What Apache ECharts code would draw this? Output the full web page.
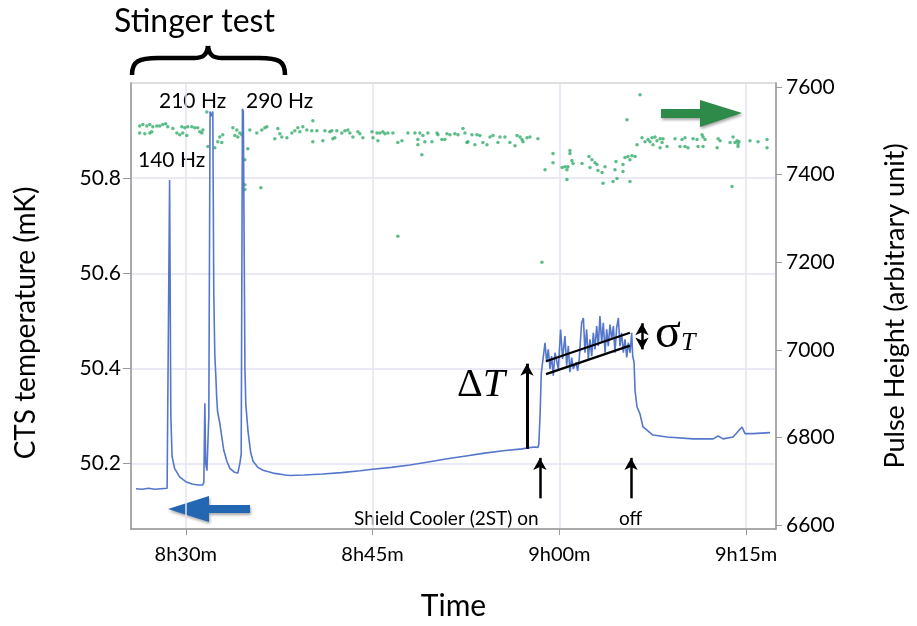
<!DOCTYPE html>
<html>
<head>
<meta charset="utf-8">
<script src="https://cdn.jsdelivr.net/npm/echarts@6/dist/echarts.min.js"></script>
<style>
  html, body { margin: 0; padding: 0; background: #fff; }
  #chart { width: 917px; height: 626px; }
</style>
</head>
<body>
<div id="chart"></div>
<script>
// time in minutes after 8h00m
var timeTicks = [30, 45, 60, 75]
var tempTicks = [50.2, 50.4, 50.6, 50.8]
var pulseTicks = [6600, 6800, 7000, 7200, 7400, 7600]

// CTS temperature (mK)
var tempTime = [
  26.0, 26.5, 27.0, 27.5, 28.0, 28.5, 28.62, 28.70, 28.80, 28.90, 29.1, 29.5, 30.0, 30.5, 31.0, 31.35,
  31.45, 31.53, 31.60, 31.70, 31.85, 31.95, 32.05, 32.17, 32.25, 32.33, 32.42, 32.48, 32.55, 32.73,
  33.05, 33.3, 33.54, 33.9, 34.18, 34.34, 34.45, 34.55, 34.62, 34.75, 34.82, 35.0, 35.2, 35.4, 35.8,
  36.2, 37.0, 38.0, 38.4, 39.5, 41.0, 42.5, 44.0, 45.0, 46.5, 48.0, 49.6, 51.0, 52.5, 54.0, 55.5,
  57.0, 57.5, 58.0, 58.28, 58.35, 58.45, 58.55,
  58.71, 58.85, 58.98, 59.11, 59.25, 59.38, 59.51, 59.65, 59.92, 60.10, 60.26, 60.45, 60.59, 60.72,
  60.85, 60.99, 61.12, 61.34, 61.47, 61.60, 61.79, 61.93, 62.06, 62.19, 62.33, 62.46, 62.60, 62.73,
  62.86, 63.00, 63.13, 63.26, 63.40, 63.53, 63.67, 63.80, 63.93, 64.07, 64.20, 64.34, 64.47, 64.60,
  64.74, 64.87, 65.00, 65.14, 65.27, 65.41, 65.54, 65.68, 65.81, 65.89, 66.00,
  66.08, 66.24, 66.48, 66.72, 67.52, 68.65, 70.74, 72.35, 72.75, 73.15, 73.95, 74.67, 74.91, 75.56, 76.92
]
var tempValue = [
  50.147, 50.146, 50.148, 50.146, 50.147, 50.148, 50.150, 50.796, 50.300, 50.215, 50.190, 50.172, 50.162, 50.157, 50.155, 50.155,
  50.160, 50.327, 50.200, 50.185, 50.300, 50.940, 50.930, 50.940, 50.554, 50.430, 50.380, 50.340, 50.310, 50.285,
  50.228, 50.205, 50.190, 50.182, 50.180, 50.200, 50.220, 50.946, 50.940, 50.400, 50.325, 50.267, 50.225, 50.205, 50.192,
  50.186, 50.180, 50.176, 50.175, 50.176, 50.178, 50.181, 50.185, 50.188, 50.192, 50.197, 50.204, 50.210, 50.216, 50.222, 50.227,
  50.231, 50.233, 50.235, 50.234, 50.240, 50.300, 50.390,
  50.388, 50.454, 50.413, 50.440, 50.399, 50.426, 50.385, 50.433, 50.399, 50.482, 50.420, 50.468, 50.406, 50.447,
  50.392, 50.423, 50.399, 50.413, 50.395, 50.420, 50.496, 50.506, 50.433, 50.482, 50.420, 50.461, 50.426, 50.475,
  50.440, 50.489, 50.447, 50.510, 50.454, 50.496, 50.433, 50.482, 50.447, 50.492, 50.461, 50.489, 50.433, 50.485,
  50.506, 50.447, 50.475, 50.433, 50.461, 50.423, 50.454, 50.433, 50.475, 50.426, 50.413,
  50.354, 50.319, 50.304, 50.277, 50.260, 50.256, 50.252, 50.252, 50.258, 50.252, 50.256, 50.277, 50.263, 50.263, 50.265
]

// Pulse height (arbitrary unit)
var pulseTime = [
  26.3, 26.55, 26.87, 27.11, 27.35, 27.67, 27.91, 28.15, 28.39, 28.55, 26.3, 26.71, 27.11, 27.27, 28.96, 29.28,
  29.52, 29.68, 29.92, 30.16, 30.48, 30.72, 29.76, 30.08, 30.96, 31.12, 31.29, 31.37, 31.77, 31.69, 32.33, 32.57,
  32.73, 32.97, 32.89, 33.78, 34.10, 34.34, 34.18, 34.50, 33.94, 34.74, 34.74, 34.74, 34.98, 35.14, 35.70, 36.11,
  36.35, 36.51, 37.15, 37.39, 37.55, 37.71, 38.12, 38.52, 38.76, 39.00, 39.16, 39.40, 39.72, 40.12, 40.20, 40.20,
  40.53, 41.01, 41.17, 41.57, 41.81, 42.13, 36.03,
  41.73, 41.97, 42.53, 42.78, 43.02, 43.18, 43.42, 43.82, 43.98, 44.22, 44.95, 45.03, 45.35, 45.43, 45.59, 45.83,
  45.99, 46.23, 46.63, 47.03, 47.36, 47.84, 48.40, 48.64, 48.64, 48.80, 48.96, 49.04, 49.20, 49.44, 49.77, 50.17,
  50.25, 50.57, 50.81, 50.97, 51.21, 51.61, 51.86, 52.26, 52.42, 52.58, 52.66, 52.98, 53.22, 53.38, 53.62, 53.86,
  54.19, 54.43, 54.67, 55.07, 55.23, 55.63, 56.03, 56.44, 56.60, 56.84, 57.00, 57.08, 57.40, 57.64, 58.28,
  47.03, 58.60,
  58.85, 59.49, 59.49, 60.22, 60.45, 60.61, 60.69, 60.61, 60.85, 60.85, 61.01, 61.10, 61.82, 62.38, 62.62, 62.46,
  62.86, 63.02, 63.10, 63.43, 63.51, 63.67, 64.31, 64.47, 64.55, 64.63, 65.11, 65.11, 65.27, 65.43, 65.51, 65.67,
  65.67, 65.83, 66.08, 66.24, 66.48, 66.64, 66.88, 67.12, 67.28, 67.44, 67.52, 67.68, 67.84, 68.09, 68.09, 68.25,
  68.33, 68.65, 69.29, 69.69, 69.85, 70.09, 70.09, 70.33, 70.74, 71.06, 71.14, 71.46, 71.54, 71.54, 71.70, 72.67,
  72.75, 72.91, 73.71, 73.87, 73.95, 74.11, 74.27, 74.35, 74.35, 74.43, 75.31, 75.96, 76.68, 76.68
]
var pulseValue = [
  7511, 7514, 7511, 7514, 7509, 7511, 7511, 7514, 7516, 7509, 7495, 7493, 7495, 7498, 7505, 7495,
  7491, 7509, 7507, 7509, 7509, 7507, 7495, 7489, 7507, 7498, 7495, 7502, 7464, 7543, 7461, 7475,
  7486, 7491, 7473, 7507, 7502, 7495, 7486, 7491, 7489, 7434, 7377, 7366, 7459, 7502, 7495, 7502,
  7507, 7509, 7482, 7505, 7493, 7486, 7484, 7495, 7500, 7507, 7498, 7509, 7502, 7500, 7523, 7475,
  7500, 7477, 7500, 7498, 7482, 7500, 7370,
  7500, 7484, 7495, 7500, 7502, 7495, 7486, 7498, 7493, 7484, 7498, 7484, 7495, 7477, 7495, 7498,
  7493, 7495, 7495, 7473, 7477, 7495, 7495, 7480, 7468, 7495, 7445, 7489, 7475, 7495, 7475, 7495,
  7491, 7480, 7480, 7493, 7491, 7493, 7491, 7505, 7495, 7473, 7475, 7491, 7468, 7491, 7489, 7473,
  7468, 7486, 7489, 7473, 7486, 7486, 7473, 7466, 7489, 7486, 7480, 7475, 7484, 7486, 7482,
  7259, 7200,
  7411, 7448, 7427, 7416, 7418, 7411, 7418, 7389, 7455, 7448, 7432, 7425, 7425, 7441, 7434, 7416,
  7427, 7423, 7409, 7405, 7380, 7418, 7384, 7411, 7430, 7391, 7407, 7423, 7439, 7525, 7441, 7434,
  7384, 7443, 7441, 7468, 7582, 7484, 7475, 7480, 7475, 7484, 7468, 7486, 7477, 7482, 7461, 7473,
  7482, 7464, 7482, 7464, 7480, 7484, 7464, 7461, 7482, 7480, 7464, 7491, 7486, 7464, 7480, 7461,
  7482, 7477, 7473, 7373, 7486, 7473, 7477, 7470, 7464, 7475, 7477, 7475, 7480, 7461
]

// sigma_T guide lines and arrows, in data units (time, mK)
var bandUpper = [[58.93, 50.415], [65.67, 50.475]]
var bandLower = [[58.93, 50.388], [65.67, 50.448]]
var deltaArrow = [[57.40, 50.231], [57.40, 50.410]]
var onArrow = [[58.44, 50.127], [58.44, 50.212]]
var offArrow = [[65.76, 50.127], [65.76, 50.212]]
var sigmaArrow = [[66.64, 50.440], [66.64, 50.495]]

var font = 'Lato, "Open Sans", sans-serif'
var serif = '"Liberation Serif", "DejaVu Serif", serif'

function fmtTime(v) {
  var h = 8 + Math.floor(v / 60)
  var m = v % 60
  return h + 'h' + (m < 10 ? '0' + m : m) + 'm'
}

var tempData = tempTime.map(function (t, i) { return [t, tempValue[i]] })
var pulseData = pulseTime.map(function (t, i) { return [t, pulseValue[i]] })

function seg(p, symbols, width) {
  return [
    { coord: p[0], symbol: symbols[0], lineStyle: { color: '#000', width: width, type: 'solid' } },
    { coord: p[1], symbol: symbols[1] }
  ]
}

var braceStyle = { fill: 'none', stroke: '#000', lineWidth: 4.5 }
function curve(x1, y1, c1x, c1y, c2x, c2y, x2, y2) {
  return {
    type: 'bezierCurve',
    shape: { x1: x1, y1: y1, cpx1: c1x, cpy1: c1y, cpx2: c2x, cpy2: c2y, x2: x2, y2: y2 },
    style: braceStyle
  }
}

var chart = echarts.init(document.getElementById('chart'))
chart.setOption({
  animation: false,
  textStyle: { fontFamily: font },
  grid: {
    left: 131, right: 141, top: 83, bottom: 93,
    show: true, borderColor: '#d4d4d4', borderWidth: 1.5
  },
  xAxis: {
    type: 'value',
    min: 25.6,
    max: 77.4,
    name: 'Time',
    nameLocation: 'middle',
    nameGap: 62,
    nameTextStyle: { fontSize: 30, color: '#000', fontFamily: font },
    axisLine: { lineStyle: { color: '#9a9a9a', width: 1.5 } },
    axisTick: { show: true, length: 6, customValues: timeTicks, lineStyle: { color: '#9a9a9a' } },
    axisLabel: { customValues: timeTicks, formatter: fmtTime, fontSize: 20, color: '#000', margin: 16 },
    splitLine: { show: true, lineStyle: { color: '#e3e3f3', width: 1.5 } }
  },
  yAxis: [{
    type: 'value',
    min: 50.0625,
    max: 51.0,
    name: 'CTS temperature (mK)',
    nameLocation: 'middle',
    nameGap: 91,
    nameRotate: 90,
    nameTextStyle: { fontSize: 28, color: '#000', fontFamily: font, padding: [0, 34, 0, 0] },
    axisLine: { show: true, lineStyle: { color: '#9a9a9a', width: 1.5 } },
    axisTick: { show: true, length: 8, customValues: tempTicks, lineStyle: { color: '#9a9a9a' } },
    axisLabel: {
      customValues: tempTicks, fontSize: 21, color: '#000', margin: 10,
      formatter: function (v) { return v.toFixed(1) }
    },
    splitLine: { show: true, lineStyle: { color: '#e3e3f3', width: 1.5 } }
  }, {
    type: 'value',
    position: 'right',
    min: 6591,
    max: 7609,
    name: 'Pulse Height (arbitrary unit)',
    nameLocation: 'middle',
    nameGap: 106,
    nameRotate: 90,
    nameTextStyle: { fontSize: 27, color: '#000', fontFamily: font },
    axisLine: { show: true, lineStyle: { color: '#9a9a9a', width: 1.5 } },
    axisTick: { show: true, length: 6, customValues: pulseTicks, lineStyle: { color: '#9a9a9a' } },
    axisLabel: {
      customValues: pulseTicks, fontSize: 21, color: '#000', margin: 10,
      formatter: function (v) { return String(v) }
    },
    splitLine: { show: false }
  }],
  series: [{
    name: 'Pulse Height',
    type: 'scatter',
    yAxisIndex: 1,
    symbolSize: 3.5,
    itemStyle: { color: '#33ad6c' },
    data: pulseData,
    z: 2
  }, {
    name: 'CTS temperature',
    type: 'line',
    yAxisIndex: 0,
    showSymbol: false,
    lineStyle: { color: '#5476cb', width: 1.6 },
    data: tempData,
    z: 3,
    markLine: {
      silent: true,
      animation: false,
      label: { show: false },
      symbolSize: [10, 12],
      data: [
        seg(bandUpper, ['none', 'none'], 2.2),
        seg(bandLower, ['none', 'none'], 2.2),
        seg(deltaArrow, ['none', 'arrow'], 3),
        seg(onArrow, ['none', 'arrow'], 2.5),
        seg(offArrow, ['none', 'arrow'], 2.5),
        seg(sigmaArrow, ['arrow', 'arrow'], 2.5)
      ]
    }
  }],
  graphic: [
    { type: 'text', left: 114, top: 6, style: { text: 'Stinger test', font: '32px ' + font, fill: '#000' } },
    curve(132, 75, 132, 61, 139, 58, 158, 58),
    { type: 'line', shape: { x1: 158, y1: 58, x2: 194, y2: 58 }, style: braceStyle },
    curve(194, 58, 203, 58, 207, 55, 208, 46),
    curve(208, 46, 209, 55, 213, 58, 222, 58),
    { type: 'line', shape: { x1: 222, y1: 58, x2: 259, y2: 58 }, style: braceStyle },
    curve(259, 58, 279, 58, 285, 61, 285, 75),
    { type: 'text', left: 138, top: 150, style: { text: '140 Hz', font: '21px ' + font, fill: '#000' } },
    { type: 'text', left: 159, top: 91, style: { text: '210 Hz', font: '21px ' + font, fill: '#000' } },
    { type: 'text', left: 246, top: 91, style: { text: '290 Hz', font: '21px ' + font, fill: '#000' } },
    {
      type: 'polygon',
      shape: { points: [[661, 109], [700, 109], [700, 100], [742, 113], [700, 127], [700, 118], [661, 118]] },
      style: { fill: '#2e8a49', shadowBlur: 3, shadowColor: 'rgba(0,0,0,0.35)', shadowOffsetX: 1, shadowOffsetY: 2 }
    },
    {
      type: 'polygon',
      shape: { points: [[250, 505], [209, 505], [209, 496], [168, 509], [209, 522], [209, 513], [250, 513]] },
      style: { fill: '#2366b1', shadowBlur: 3, shadowColor: 'rgba(0,0,0,0.35)', shadowOffsetX: 1, shadowOffsetY: 2 }
    },
    {
      type: 'text', left: 457, top: 365,
      style: {
        text: '{a|Δ}{b|T}',
        rich: {
          a: { font: '40px ' + serif, fill: '#000' },
          b: { font: 'italic 40px ' + serif, fill: '#000' }
        }
      }
    },
    {
      type: 'text', left: 655, top: 310,
      style: {
        text: '{a|σ}{b|T}',
        rich: {
          a: { font: '48px ' + serif, fill: '#000' },
          b: { font: 'italic 26px ' + serif, fill: '#000', padding: [18, 0, 0, 0] }
        }
      }
    },
    { type: 'text', left: 354, top: 509, style: { text: 'Shield Cooler (2ST) on', font: '19px ' + font, fill: '#000' } },
    { type: 'text', left: 619, top: 509, style: { text: 'off', font: '19px ' + font, fill: '#000' } }
  ]
})
</script>
</body>
</html>
